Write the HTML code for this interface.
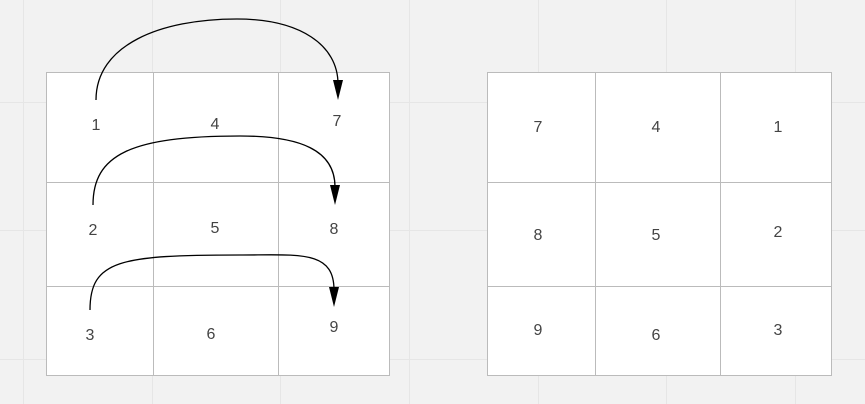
<!DOCTYPE html>
<html><head><meta charset="utf-8"><style>
html,body{margin:0;padding:0;background:#f2f2f2;}
svg{display:block;font-family:"Liberation Sans",sans-serif;}
text{font-size:16px;fill:#444;text-anchor:middle;dominant-baseline:middle;}
</style></head><body>
<svg width="865" height="404" viewBox="0 0 865 404">
<g stroke="#e6e6e6" stroke-width="1">
<line x1="23.5" y1="0" x2="23.5" y2="404"/><line x1="152.5" y1="0" x2="152.5" y2="404"/><line x1="280.5" y1="0" x2="280.5" y2="404"/><line x1="409.5" y1="0" x2="409.5" y2="404"/><line x1="538.5" y1="0" x2="538.5" y2="404"/><line x1="666.5" y1="0" x2="666.5" y2="404"/><line x1="795.5" y1="0" x2="795.5" y2="404"/>
<line x1="0" y1="102.5" x2="865" y2="102.5"/><line x1="0" y1="230.5" x2="865" y2="230.5"/><line x1="0" y1="359.5" x2="865" y2="359.5"/>
</g>
<g stroke="#bbb" stroke-width="1">
<rect x="46.5" y="72.5" width="343" height="303" fill="#fff"/>
<line x1="153.5" y1="72" x2="153.5" y2="376"/><line x1="278.5" y1="72" x2="278.5" y2="376"/>
<line x1="46" y1="182.5" x2="390" y2="182.5"/><line x1="46" y1="286.5" x2="390" y2="286.5"/>
</g>
<g stroke="#bbb" stroke-width="1">
<rect x="487.5" y="72.5" width="344" height="303" fill="#fff"/>
<line x1="595.5" y1="72" x2="595.5" y2="376"/><line x1="720.5" y1="72" x2="720.5" y2="376"/>
<line x1="487" y1="182.5" x2="832" y2="182.5"/><line x1="487" y1="286.5" x2="832" y2="286.5"/>
</g>
<g>
<text x="96" y="126">1</text><text x="215" y="125">4</text><text x="337" y="122">7</text>
<text x="93" y="231">2</text><text x="215" y="229">5</text><text x="334" y="230">8</text>
<text x="90" y="336">3</text><text x="211" y="335">6</text><text x="334" y="328">9</text>
</g>
<g>
<text x="538" y="128">7</text><text x="656" y="128">4</text><text x="778" y="128">1</text>
<text x="538" y="236">8</text><text x="656" y="236">5</text><text x="778" y="233">2</text>
<text x="538" y="331">9</text><text x="656" y="336">6</text><text x="778" y="331">3</text>
</g>
<g fill="none" stroke="#000" stroke-width="1.3">
<path d="M96 100 C96 45 160 19 237 19 C300 19 338 45 338 84"/>
<path d="M93 205 C93 155 130 136 240 136 C300 136 335 150 335 187"/>
<path d="M90 310 C90 260 120 255 240 255 C300 255 334 250 334 290"/>
</g>
<g fill="#000">
<polygon points="333,80 343,80 338,100"/>
<polygon points="330,185 340,185 335,205"/>
<polygon points="329,287 339,287 334,307"/>
</g>
</svg>
</body></html>
